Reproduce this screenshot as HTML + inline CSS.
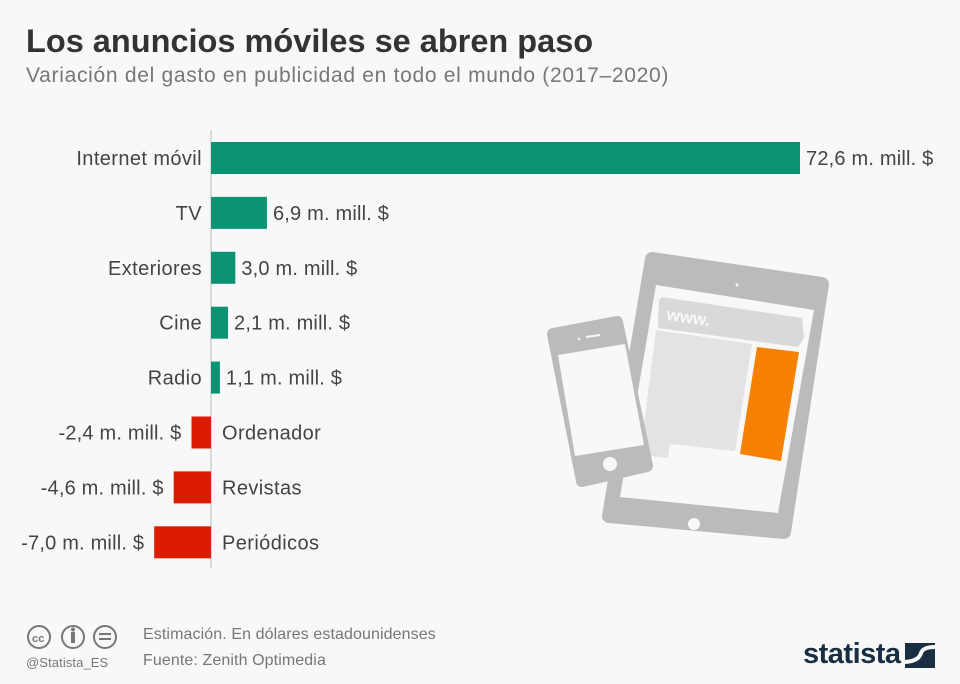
<!DOCTYPE html>
<html><head><meta charset="utf-8"><style>
body{margin:0;width:960px;height:684px;background:#f8f8f8;font-family:"Liberation Sans",sans-serif;overflow:hidden;position:relative}
.t{position:absolute;left:26px;top:23px;font-size:32.5px;font-weight:bold;color:#333}
.s{position:absolute;left:26px;top:64px;font-size:21px;letter-spacing:0.7px;color:#777}
.f{position:absolute;font-size:16px;color:#777;letter-spacing:0.1px}
</style></head><body>
<div class="t">Los anuncios móviles se abren paso</div>
<div class="s">Variación del gasto en publicidad en todo el mundo (2017–2020)</div>
<svg id="c" width="960" height="684" style="position:absolute;left:0;top:0">
<g>
<polygon points="652,259 822,284 784,532 609,516" fill="#bbb" stroke="#bbb" stroke-width="14" stroke-linejoin="round"/>
<polygon points="656,285 814,310 778,513 620,497" fill="#f8f8f8"/>
<circle cx="737" cy="285" r="1.5" fill="#f8f8f8"/>
<circle cx="694" cy="524" r="6" fill="#f8f8f8"/>
<polygon points="662,297 802,318 804,338 798,347 658,328 659,300" fill="#d9d9d9"/>
<text x="666" y="320" font-size="17" font-weight="bold" fill="#f8f8f8" transform="rotate(8 666 320)">www.</text>
<polygon points="656,330 752,344 735,451 670,444 668,458 640,455" fill="#e3e3e3"/>
<polygon points="757,347 799,352 781,461 740,454" fill="#f68100"/>
<polygon points="553,334 617,322 647,466 582,481" fill="#bbb" stroke="#bbb" stroke-width="12" stroke-linejoin="round"/>
<polygon points="558,355 625,344 644,445 575,456" fill="#f8f8f8"/>
<line x1="586" y1="337" x2="600" y2="335" stroke="#f8f8f8" stroke-width="2"/>
<circle cx="579" cy="339" r="1.3" fill="#f8f8f8"/>
<circle cx="610" cy="464" r="7" fill="#f8f8f8"/>
</g>
</svg>
<div class="f" style="left:26px;top:624px"><svg width="95" height="28"><g fill="none" stroke="#777" stroke-width="2"><circle cx="13" cy="13" r="11"/><circle cx="47" cy="13" r="11"/><circle cx="79" cy="13" r="11"/></g><text x="6" y="18" font-size="11" font-weight="bold" fill="#777">cc</text><rect x="45" y="8" width="4" height="11" fill="#777"/><circle cx="47" cy="5.5" r="2" fill="#777"/><rect x="73" y="9" width="12" height="2" fill="#777"/><rect x="73" y="14" width="12" height="2" fill="#777"/></svg></div>
<div class="f" style="left:26px;top:655px;font-size:13px">@Statista_ES</div>
<div class="f" style="left:143px;top:626px">Estimación. En dólares estadounidenses</div>
<div class="f" style="left:143px;top:652px">Fuente: Zenith Optimedia</div>
<div style="position:absolute;left:803px;top:638px;font-size:29px;font-weight:bold;color:#1a2e42;letter-spacing:-0.5px">statista</div>
<svg style="position:absolute;left:905px;top:643px" width="30" height="25"><rect width="30" height="25" fill="#1a2e42"/><path d="M0 19 Q14 18 16 10 Q18 4 30 4" stroke="#f8f8f8" stroke-width="4" fill="none"/></svg>
<script>
const categories=["Internet móvil","TV","Exteriores","Cine","Radio","Ordenador","Revistas","Periódicos"];
const values=[72.6,6.9,3.0,2.1,1.1,-2.4,-4.6,-7.0];
const valueLabels=["72,6 m. mill. $","6,9 m. mill. $","3,0 m. mill. $","2,1 m. mill. $","1,1 m. mill. $","-2,4 m. mill. $","-4,6 m. mill. $","-7,0 m. mill. $"];
const svg=document.getElementById('c');const NS="http://www.w3.org/2000/svg";
const x0=211,k=589/72.6;const xs=v=>x0+v*k;const ys=i=>158+i*54.9;
function mk(t,a){const e=document.createElementNS(NS,t);for(const p in a)e.setAttribute(p,a[p]);svg.appendChild(e);return e;}
const ax=mk('line',{x1:x0,y1:130,x2:x0,y2:568,stroke:'#bbb','stroke-width':1});


values.forEach((v,i)=>{
 const a=xs(Math.min(0,v)),b=xs(Math.max(0,v)),y=ys(i);
 const r=mk('rect',{x:a,y:y-16,width:b-a,height:32,fill:v>=0?'#0a9474':'#dc1c00'});
 
 
 const pos=v>=0;
 const c=mk('text',{x:pos?x0-9:x0+11,y:y+7,'font-size':20,'letter-spacing':0.4,fill:'#444','text-anchor':pos?'end':'start'});c.textContent=categories[i];
 
 
 const l=mk('text',{x:pos?b+6:a-10,y:y+7,'font-size':20,'letter-spacing':0.2,fill:'#444','text-anchor':pos?'start':'end'});l.textContent=valueLabels[i];
 
 
});
</script>
</body></html>
